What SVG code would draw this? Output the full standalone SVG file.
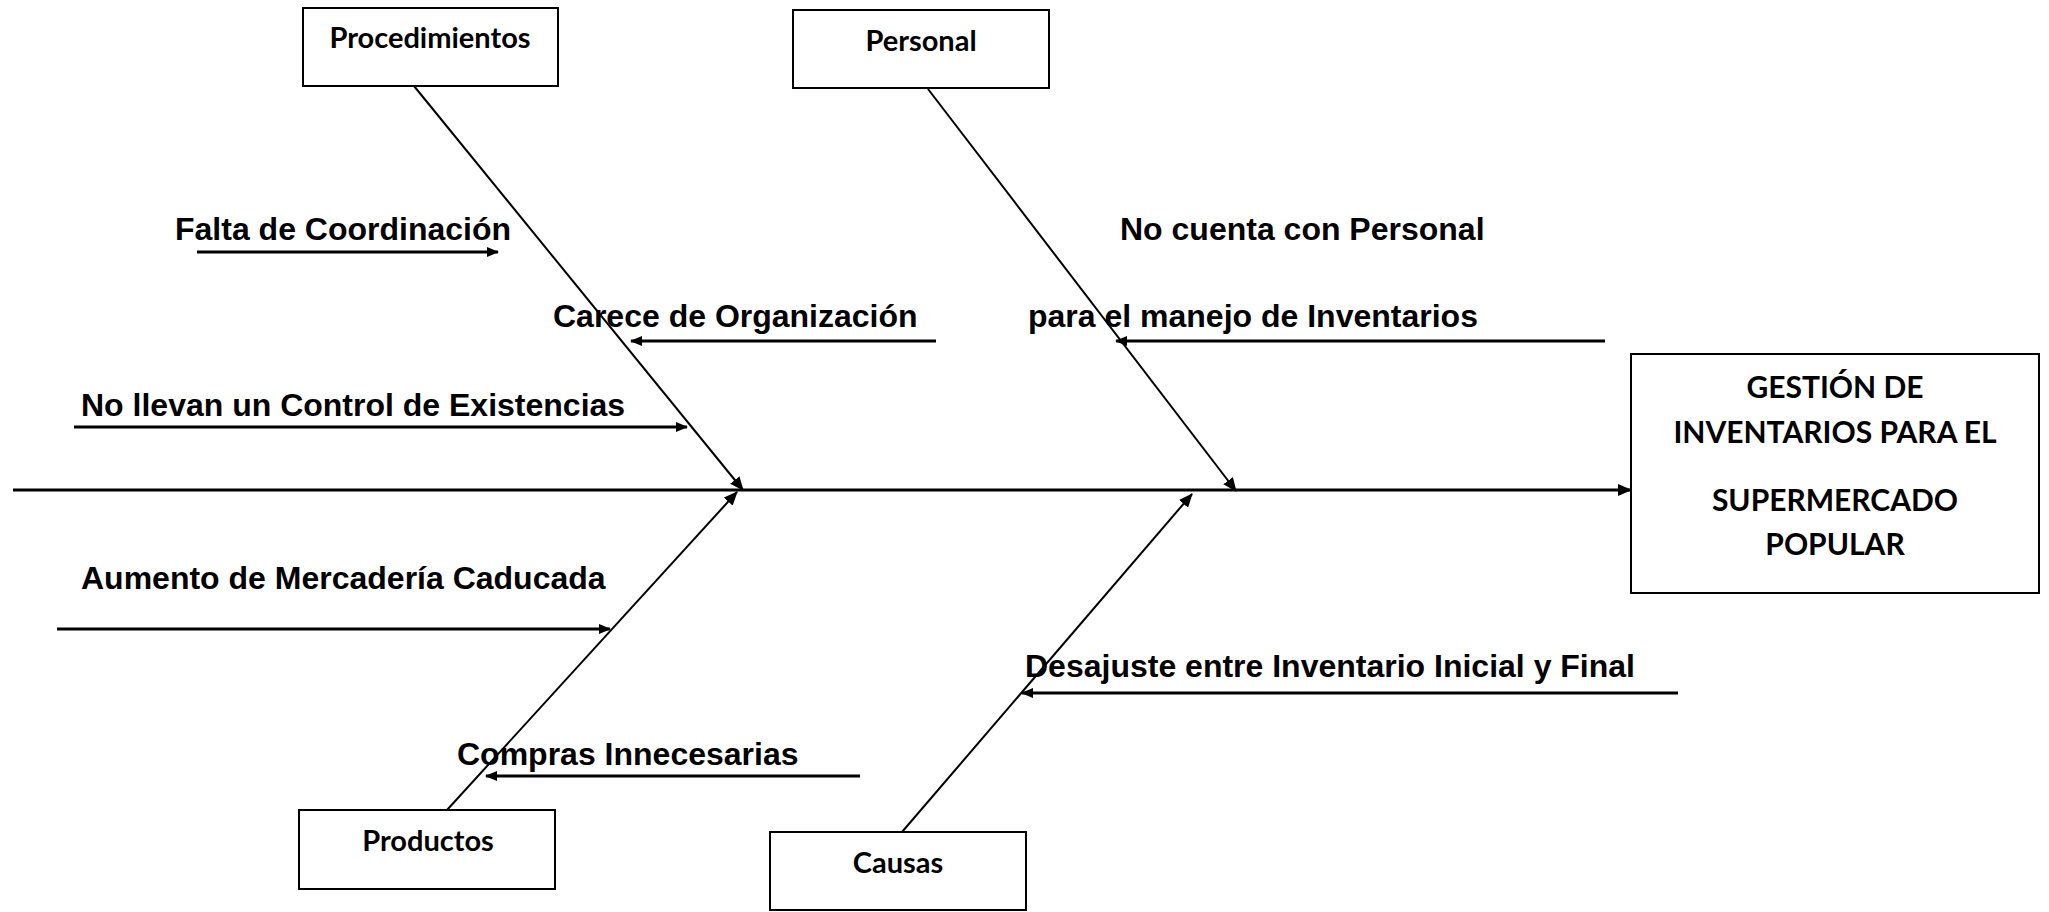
<svg xmlns="http://www.w3.org/2000/svg" width="2049" height="912" viewBox="0 0 2049 912">
<defs>
<marker id="ah" viewBox="0 0 12 10" refX="11" refY="5" markerWidth="12" markerHeight="10" markerUnits="userSpaceOnUse" orient="auto">
<path d="M0,0 L12,5 L0,10 Z" fill="#000"/>
</marker>
<marker id="ah2" viewBox="0 0 14 12" refX="13" refY="6" markerWidth="14" markerHeight="12" markerUnits="userSpaceOnUse" orient="auto">
<path d="M0,0 L14,6 L0,12 Z" fill="#000"/>
</marker>
</defs>
<style>
.box{fill:#fff;stroke:#000;stroke-width:2}
.bl{font-family:Lato,"Open Sans",sans-serif;font-weight:bold;font-size:29px;fill:#000;text-anchor:middle}
.el{font-family:Lato,"Open Sans",sans-serif;font-weight:bold;font-size:30px;fill:#000;text-anchor:middle}
.lab{font-family:"Liberation Sans",Arial,sans-serif;font-weight:bold;font-size:32px;fill:#000}
.bone{stroke:#000;stroke-width:2;fill:none}
.arr{stroke:#000;stroke-width:3;fill:none}
</style>
<rect width="2049" height="912" fill="#fff"/>
<g id="connectors">
<line class="arr" x1="13" y1="490" x2="1631" y2="490" marker-end="url(#ah2)"/>
<line class="bone" x1="414" y1="86" x2="743" y2="490" marker-end="url(#ah2)"/>
<line class="bone" x1="928" y1="89" x2="1236" y2="491" marker-end="url(#ah2)"/>
<line class="bone" x1="447" y1="810" x2="737" y2="492" marker-end="url(#ah2)"/>
<line class="bone" x1="902" y1="832" x2="1192" y2="494" marker-end="url(#ah2)"/>
<line class="arr" x1="197" y1="252" x2="498" y2="252" marker-end="url(#ah)"/>
<line class="arr" x1="936" y1="341" x2="631" y2="341" marker-end="url(#ah)"/>
<line class="arr" x1="74" y1="427" x2="687" y2="427" marker-end="url(#ah)"/>
<line class="arr" x1="1605" y1="341" x2="1116" y2="341" marker-end="url(#ah)"/>
<line class="arr" x1="57" y1="629" x2="610" y2="629" marker-end="url(#ah)"/>
<line class="arr" x1="860" y1="776" x2="486" y2="776" marker-end="url(#ah)"/>
<line class="arr" x1="1678" y1="693" x2="1022" y2="693" marker-end="url(#ah)"/>
</g>
<g id="labels">
<text class="lab" x="175" y="240">Falta de Coordinación</text>
<text class="lab" x="553" y="327">Carece de Organización</text>
<text class="lab" x="81" y="416">No llevan un Control de Existencias</text>
<text class="lab" x="1120" y="240">No cuenta con Personal</text>
<text class="lab" x="1028" y="327">para el manejo de Inventarios</text>
<text class="lab" x="81" y="589">Aumento de Mercadería Caducada</text>
<text class="lab" x="457" y="765">Compras Innecesarias</text>
<text class="lab" x="1025" y="677">Desajuste entre Inventario Inicial y Final</text>
</g>
<g id="procedimientos">
<rect class="box" x="303" y="8" width="255" height="78"/>
<text class="bl" x="430" y="48">Procedimientos</text>
</g>
<g id="personal">
<rect class="box" x="793" y="10" width="256" height="78"/>
<text class="bl" x="921" y="51">Personal</text>
</g>
<g id="productos">
<rect class="box" x="299" y="810" width="256" height="79"/>
<text class="bl" x="428" y="851">Productos</text>
</g>
<g id="causas">
<rect class="box" x="770" y="832" width="256" height="78"/>
<text class="bl" x="898" y="873">Causas</text>
</g>
<g id="efecto">
<rect class="box" x="1631" y="354" width="408" height="239"/>
<text class="el" x="1835" y="398">GESTIÓN DE</text>
<text class="el" x="1835" y="443">INVENTARIOS PARA EL</text>
<text class="el" x="1835" y="511">SUPERMERCADO</text>
<text class="el" x="1835" y="555">POPULAR</text>
</g>
</svg>
